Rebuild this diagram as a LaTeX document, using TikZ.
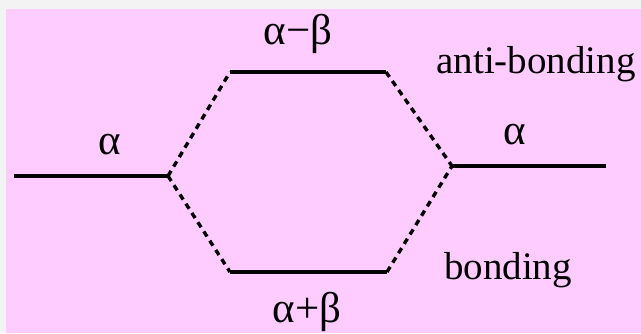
\documentclass[tikz,border=0pt]{standalone}
\usepackage{fontspec}
\setmainfont{Liberation Serif}
\begin{document}
\begin{tikzpicture}[x=1pt,y=-1pt,
  level/.style={line width=3.4pt},
  conn/.style={line width=3.4pt,dash pattern=on 6pt off 5pt},
  lbl/.style={inner sep=0pt,font=\fontsize{39}{44}\selectfont},
  glbl/.style={inner sep=0pt,font=\fontsize{43}{48}\selectfont}]
\definecolor{bgpink}{HTML}{FFCCFF}
\definecolor{bggray}{HTML}{F3F3F3}
\useasboundingbox (0,0) rectangle (641,333);
\fill[bggray] (0,0) rectangle (641,333);
\fill[bgpink] (6,9) rectangle (641,333);
% level end points
\coordinate (l1) at (14,176);
\coordinate (l2) at (168,176);
\coordinate (t1) at (230,72);
\coordinate (t2) at (386,72);
\coordinate (b1) at (230,272);
\coordinate (b2) at (387,272);
\coordinate (r1) at (452,166);
\coordinate (r2) at (606,166);
\draw[level] (l1) -- (l2);
\draw[level] (t1) -- (t2);
\draw[level] (b1) -- (b2);
\draw[level] (r1) -- (r2);
\draw[conn] (l2) -- (t1);
\draw[conn] (l2) -- (b1);
\draw[conn] (t2) -- (r1);
\draw[conn] (b2) -- (r1);
\node[glbl] (al) at (110,145) {α};
\node[glbl] (ar) at (515,135) {α};
\node[glbl] (amb) at (298,34) {α−β};
\node[glbl] (apb) at (307,312) {α+β};
\node[lbl] (ab) at (536,64) {anti-bonding};
\node[lbl] (bo) at (508,270) {bonding};
\end{tikzpicture}
\end{document}
